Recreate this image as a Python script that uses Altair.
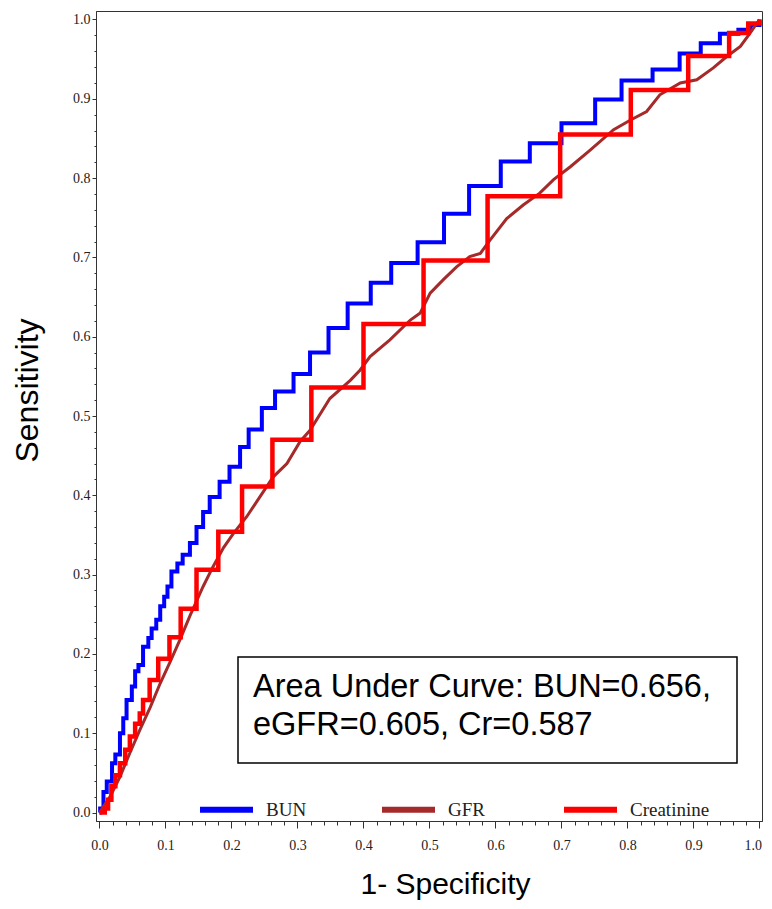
import altair as alt
import pandas as pd

# ---- data ----
bun_x = [0, 0.001, 0.006, 0.011, 0.019, 0.024, 0.031, 0.036, 0.041, 0.049,
         0.054, 0.059, 0.066, 0.074, 0.079, 0.086, 0.092, 0.098, 0.103, 0.109,
         0.118, 0.126, 0.137, 0.147, 0.157, 0.167, 0.182, 0.197, 0.213, 0.226,
         0.246, 0.266, 0.294, 0.319, 0.347, 0.376, 0.411, 0.442, 0.482, 0.522,
         0.560, 0.608, 0.652, 0.700, 0.751, 0.791, 0.838, 0.879, 0.911, 0.940,
         0.968, 0.986, 1.0]
bun_y = [0, 0.005, 0.026, 0.039, 0.062, 0.073, 0.100, 0.119, 0.142, 0.159,
         0.178, 0.186, 0.209, 0.220, 0.232, 0.243, 0.260, 0.272, 0.285, 0.304,
         0.314, 0.325, 0.340, 0.360, 0.379, 0.398, 0.417, 0.436, 0.461, 0.483,
         0.510, 0.531, 0.553, 0.580, 0.611, 0.642, 0.668, 0.693, 0.719, 0.755,
         0.790, 0.821, 0.844, 0.869, 0.899, 0.923, 0.937, 0.957, 0.970, 0.982,
         0.987, 0.993, 1.0]

gfr_x = [0, 0.016, 0.031, 0.046, 0.061, 0.077, 0.092, 0.107, 0.122, 0.137,
         0.157, 0.172, 0.188, 0.203, 0.223, 0.243, 0.263, 0.284, 0.304, 0.319,
         0.349, 0.380, 0.395, 0.410, 0.440, 0.471, 0.486, 0.501, 0.521, 0.541,
         0.561, 0.577, 0.592, 0.617, 0.642, 0.667, 0.688, 0.713, 0.743, 0.779,
         0.804, 0.829, 0.849, 0.880, 0.905, 0.930, 0.950, 0.971, 0.986, 1.0]
gfr_y = [0, 0.020, 0.045, 0.075, 0.104, 0.133, 0.163, 0.190, 0.218, 0.248,
         0.285, 0.310, 0.334, 0.352, 0.373, 0.398, 0.423, 0.440, 0.468, 0.482,
         0.522, 0.545, 0.558, 0.575, 0.596, 0.621, 0.630, 0.655, 0.672, 0.688,
         0.701, 0.705, 0.722, 0.749, 0.766, 0.781, 0.798, 0.814, 0.835, 0.861,
         0.873, 0.884, 0.905, 0.920, 0.924, 0.939, 0.953, 0.966, 0.983, 1.0]

cr_x = [0, 0.008, 0.013, 0.018, 0.024, 0.031, 0.039, 0.046, 0.054, 0.061,
        0.066, 0.076, 0.089, 0.106, 0.123, 0.147, 0.180, 0.216, 0.262, 0.321,
        0.400, 0.491, 0.588, 0.698, 0.805, 0.892, 0.954, 0.983, 1.0]
cr_y = [0, 0.005, 0.016, 0.033, 0.047, 0.062, 0.079, 0.096, 0.112, 0.125,
        0.142, 0.167, 0.194, 0.221, 0.257, 0.306, 0.354, 0.411, 0.470, 0.536,
        0.616, 0.696, 0.777, 0.855, 0.911, 0.954, 0.983, 0.995, 1.0]

series_names = ["BUN", "GFR", "Creatinine"]
series_colors = ["#0000FF", "#A52A2A", "#FF0000"]

auc_lines = ["Area Under Curve: BUN=0.656,", "eGFR=0.605, Cr=0.587"]
x_title = "1- Specificity"
y_title = "Sensitivity"

tick_values = [round(i * 0.02, 2) for i in range(51)]

# ---- build table ----
rows = []
for name, xs, ys in zip(series_names, [bun_x, gfr_x, cr_x], [bun_y, gfr_y, cr_y]):
    for i, (xv, yv) in enumerate(zip(xs, ys)):
        rows.append({"series": name, "fpr": xv, "tpr": yv, "order": i})
df = pd.DataFrame(rows)

is_major = "abs(datum.value*10 - round(datum.value*10)) < 0.001"
label_expr = f"{is_major} ? format(datum.value, '.1f') : ''"

x_enc = alt.X(
    "fpr:Q",
    scale=alt.Scale(domain=[-0.0053, 1.0038], nice=False, zero=False),
    axis=alt.Axis(
        title=x_title, values=tick_values, labelExpr=label_expr,
        labelOverlap=False, labelFlush=3, labelFlushOffset=2, grid=False,
        tickSize={"condition": {"test": is_major, "value": 7}, "value": 4},
        labelFont="Liberation Serif", labelFontSize=14, labelPadding=10,
        titleFont="Liberation Sans", titleFontSize=30, titleFontWeight="normal",
        titleX=349, titleY=72, titleBaseline="alphabetic", titleAlign="center",
        titleColor="#000000",
    ),
)
y_enc = alt.Y(
    "tpr:Q",
    scale=alt.Scale(domain=[-0.0107, 1.0107], nice=False, zero=False),
    axis=alt.Axis(
        title=y_title, values=tick_values, labelExpr=label_expr,
        labelOverlap=False, labelFlush=False, grid=False,
        tickSize={"condition": {"test": is_major, "value": 4}, "value": 2},
        labelFont="Liberation Serif", labelFontSize=14, labelPadding=2,
        titleFont="Liberation Sans", titleFontSize=32, titleFontWeight="normal",
        titleX=-59, titleY=379, titleBaseline="alphabetic", titleAlign="center",
        titleColor="#000000",
    ),
)
color_enc = alt.Color(
    "series:N",
    scale=alt.Scale(domain=series_names, range=series_colors),
    legend=alt.Legend(
        orient="none", legendX=101, legendY=769, direction="horizontal",
        title=None, symbolType="stroke", symbolSize=2809, symbolStrokeWidth=6,
        labelFont="Liberation Serif", labelFontSize=19, labelOffset=10,
        labelColor="#222222", columns=3, columnPadding=24, gridAlign="all",
        padding=0,
    ),
)

base = alt.Chart(df).encode(x=x_enc, y=y_enc, color=color_enc, order="order:Q")

bun_layer = base.transform_filter(alt.datum.series == "BUN").mark_line(
    interpolate="step-after", strokeWidth=4)
gfr_layer = base.transform_filter(alt.datum.series == "GFR").mark_line(
    strokeWidth=3)
cr_layer = base.transform_filter(alt.datum.series == "Creatinine").mark_line(
    interpolate="step-after", strokeWidth=4.5)

one = pd.DataFrame({"k": [0]})
box = alt.Chart(one).mark_rect(fill="white", stroke="black", strokeWidth=1.5).encode(
    x=alt.value(142), x2=alt.value(641), y=alt.value(646), y2=alt.value(752))
auc_text = alt.Chart(one).mark_text(
    text=auc_lines, align="left", baseline="alphabetic", font="Liberation Sans",
    fontSize=32.5, lineHeight=38, color="black").encode(
    x=alt.value(157), y=alt.value(686))

chart = alt.layer(bun_layer, gfr_layer, cr_layer, box, auc_text).properties(
    width=666, height=810,
    autosize=alt.AutoSizeParams(type="none"),
    padding={"left": 88, "top": 3, "right": 2, "bottom": 80},
).configure_view(stroke="#333333", strokeWidth=1).configure_axis(
    domainColor="#333333", tickColor="#333333", labelColor="#222222"
)

chart.save("out.html", embed_options={"renderer": "svg", "actions": False})
